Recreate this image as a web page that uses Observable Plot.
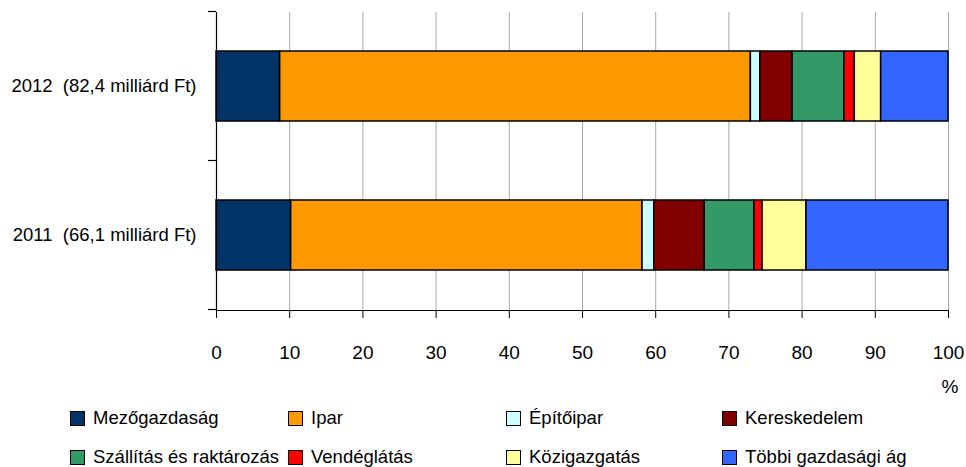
<!DOCTYPE html>
<html><head><meta charset="utf-8">
<script src="https://cdn.jsdelivr.net/npm/d3@7"></script>
<script src="https://cdn.jsdelivr.net/npm/@observablehq/plot@0.6"></script>
<style>
body{margin:0;background:#fff;font-family:"Liberation Sans",Arial,sans-serif;}
#chart{width:966px;}
.legend{position:relative;width:966px;height:72px;}
.item{position:absolute;display:flex;align-items:center;height:24px;font-size:18.5px;color:#000;white-space:nowrap;}
.sw{width:13px;height:13px;border:1px solid #000;margin-right:8px;flex:none;}
</style></head><body><div id="chart"></div><script>
const years = ["2012  (82,4 milliárd Ft)", "2011  (66,1 milliárd Ft)"];
const sectors = ["Mezőgazdaság","Ipar","Építőipar","Kereskedelem","Szállítás és raktározás","Vendéglátás","Közigazgatás","Többi gazdasági ág"];
const colors = ["#003366","#FF9900","#CCFFFF","#800000","#339966","#FF0000","#FFFF99","#3366FF"];
const values2012 = [8.7,64.3,1.3,4.4,7.1,1.4,3.6,9.2];
const values2011 = [10.2,48.0,1.6,6.9,6.8,1.1,6.0,19.4];
const xTicks = [0,10,20,30,40,50,60,70,80,90,100];

const rows = [
  ...sectors.map((s,i)=>({year:years[0], sector:s, value:values2012[i]})),
  ...sectors.map((s,i)=>({year:years[1], sector:s, value:values2011[i]}))
];
const font = '"Liberation Sans",Arial,sans-serif';

const plot = Plot.plot({
  width: 966, height: 395,
  marginLeft: 216, marginRight: 18, marginTop: 12, marginBottom: 85,
  style: {fontFamily: font, fontSize: "18.5px", color: "#000", background: "#fff"},
  x: {domain: [0,100]},
  y: {domain: years, paddingInner: 0.53, paddingOuter: 0.265},
  color: {domain: sectors, range: colors},
  marks: [
    Plot.gridX(xTicks.filter(d => d > 0), {stroke: "#a8a8a8", strokeOpacity: 1, strokeWidth: 1}),
    Plot.barX(rows, Plot.stackX({x: "value", y: "year", fill: "sector", stroke: "#000", strokeWidth: 1.5})),
    Plot.ruleX([0], {stroke: "#000", strokeWidth: 1.2}),
    Plot.frame({anchor: "bottom", stroke: "#000", strokeWidth: 1.2}),
    Plot.axisX({ticks: xTicks, tickSize: 8, tickPadding: 27, label: null, fontSize: 19}),
    Plot.axisY({tickSize: 0, tickPadding: 20, label: null, fontSize: 18.5}),
    Plot.text(["%"], {frameAnchor: "bottom-right", dx: 10, dy: 82, fontSize: 19, textAnchor: "end"})
  ]
});

// y-axis ticks at band boundaries, positioned from the library's band scale
const ys = plot.scale("y"), xs = plot.scale("x");
const gap = (ys.step - ys.bandwidth) / 2;
const bounds = ys.domain.map(d => ys.apply(d) - gap).concat([ys.apply(ys.domain[ys.domain.length-1]) + ys.bandwidth + gap]);
const x0 = xs.apply(0);
d3.select(plot).append("g").attr("stroke", "#000").attr("stroke-width", 1.2)
  .selectAll("line").data(bounds).join("line")
  .attr("x1", x0 - 8).attr("x2", x0).attr("y1", d => d).attr("y2", d => d);

document.getElementById("chart").appendChild(plot);

// legend
const lx = [70, 288, 506, 722], ly = [11, 50];
const leg = d3.select("body").append("div").attr("class", "legend");
sectors.forEach((s, i) => {
  const it = leg.append("div").attr("class", "item")
    .style("left", lx[i % 4] + "px").style("top", ly[Math.floor(i / 4)] + "px");
  it.append("div").attr("class", "sw").style("background", colors[i]);
  it.append("span").text(s);
});
</script></body></html>
